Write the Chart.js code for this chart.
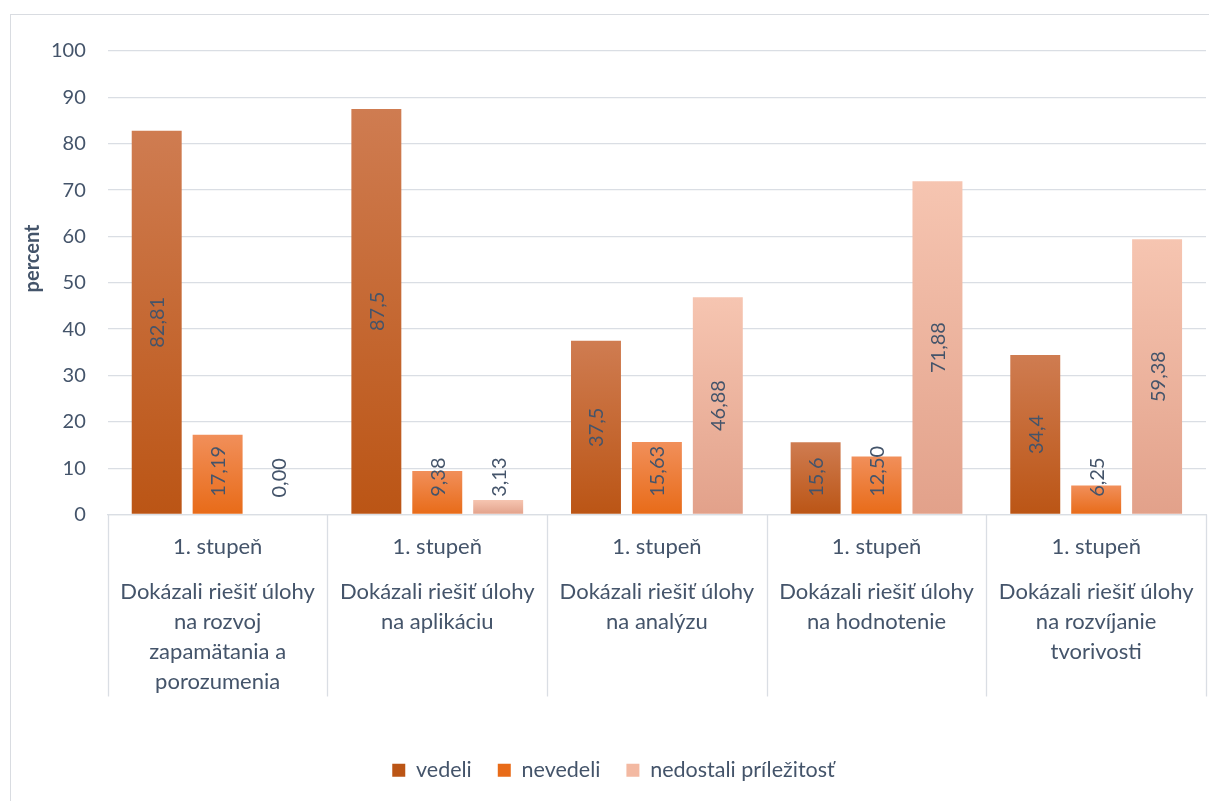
<!DOCTYPE html>
<html><head><meta charset="utf-8">
<script src="https://cdn.jsdelivr.net/npm/chart.js@4/dist/chart.umd.min.js"></script>
<style>
html,body{margin:0;padding:0;background:#fff;overflow:hidden}
#wrap{position:absolute;left:10px;top:14px;width:1210px;height:800px;border-left:1px solid #d9dce1;border-top:1px solid #d9dce1;}
#c{display:block}
</style></head><body>
<div id="wrap"><canvas id="c"></canvas></div>
<script>
const categoriesTop = ['1. stupeň','1. stupeň','1. stupeň','1. stupeň','1. stupeň'];
const categoryLines = [
  ['Dokázali riešiť úlohy','na rozvoj','zapamätania a','porozumenia'],
  ['Dokázali riešiť úlohy','na aplikáciu'],
  ['Dokázali riešiť úlohy','na analýzu'],
  ['Dokázali riešiť úlohy','na hodnotenie'],
  ['Dokázali riešiť úlohy','na rozvíjanie','tvorivosti']
];
const seriesNames = ['vedeli','nevedeli','nedostali príležitosť'];
const vedeli = [82.81, 87.5, 37.5, 15.6, 34.4];
const nevedeli = [17.19, 9.38, 15.63, 12.5, 6.25];
const nedostali = [0, 3.13, 46.88, 71.88, 59.38];
const vedeliLabels = ['82,81','87,5','37,5','15,6','34,4'];
const nevedeliLabels = ['17,19','9,38','15,63','12,50','6,25'];
const nedostaliLabels = ['0,00','3,13','46,88','71,88','59,38'];
const yAxisTitle = 'percent';

const FONT = 'Lato, "Noto Sans", sans-serif';
const TXT = '#44546a';
const GRID = '#dadee4';

function grad(top, bottom, solid){
  return (ctx) => {
    if (ctx.type !== 'data') return solid;
    const ch = ctx.chart; const y = ch.scales.y;
    if (!y || !ch.ctx) return solid;
    const t = y.getPixelForValue(ctx.raw), b = y.getPixelForValue(0);
    if (!isFinite(t) || !isFinite(b) || Math.abs(b - t) < 1) return solid;
    const g = ch.ctx.createLinearGradient(0, t, 0, b);
    g.addColorStop(0, top); g.addColorStop(1, bottom);
    return g;
  };
}

const labelSets = [vedeliLabels, nevedeliLabels, nedostaliLabels];
const X2_PAD = -10, X2_LH = 30;

const separators = {
  id: 'separators',
  afterDraw(chart){
    const xs = chart.scales.x, x2 = chart.scales.x2, c = chart.ctx;
    const n = xs.getLabels().length;
    const maxLines = Math.max(...categoryLines.map(l => l.length));
    const bottom = x2.top + X2_PAD + maxLines * X2_LH + 8;
    c.save(); c.strokeStyle = GRID; c.lineWidth = 1.3;
    for (let i = 0; i <= n; i++){
      const px = Math.round(xs.getPixelForValue(i - 0.5)) + 0.5;
      c.beginPath(); c.moveTo(px, xs.top); c.lineTo(px, bottom); c.stroke();
    }
    c.restore();
  }
};

const valueLabels = {
  id: 'valueLabels',
  afterDatasetsDraw(chart){
    const c = chart.ctx;
    c.save();
    c.font = '20px ' + FONT; c.fillStyle = TXT;
    c.textAlign = 'center'; c.textBaseline = 'middle';
    chart.data.datasets.forEach((ds, di) => {
      const meta = chart.getDatasetMeta(di);
      meta.data.forEach((el, i) => {
        const txt = labelSets[di][i];
        const w = c.measureText(txt).width;
        let cy = (el.y + el.base) / 2;
        cy = Math.min(cy, el.base - 17 - w / 2);
        c.save(); c.translate(el.x, cy); c.rotate(-Math.PI/2);
        c.fillText(txt, 0, 1); c.restore();
      });
    });
    c.restore();
  }
};

const canvas = document.getElementById('c');
canvas.width = 1198; canvas.height = 786;
canvas.style.width = '1198px'; canvas.style.height = '786px';

new Chart(canvas, {
  type: 'bar',
  data: {
    labels: categoriesTop,
    datasets: [
      {label: seriesNames[0], data: vedeli, backgroundColor: grad('#cf7c51', '#bb5515', '#c6631f')},
      {label: seriesNames[1], data: nevedeli, backgroundColor: grad('#f18f5a', '#e86b18', '#f07d2e')},
      {label: seriesNames[2], data: nedostali, backgroundColor: grad('#f6c5b1', '#e2a18a', '#f3b9a2')}
    ]
  },
  options: {
    responsive: false,
    animation: false,
    devicePixelRatio: 1,
    categoryPercentage: 0.832,
    barPercentage: 0.82,
    layout: {padding: {left: 10, right: 3, top: 36, bottom: 10}},
    scales: {
      y: {
        min: 0, max: 100,
        ticks: {stepSize: 10, padding: 22, color: TXT, font: {family: FONT, size: 20}},
        grid: {color: GRID, lineWidth: 1.3, drawTicks: false},
        border: {display: false},
        title: {display: true, text: '          ' + yAxisTitle, color: TXT, font: {family: FONT, size: 20, weight: 'bold', lineHeight: '24px'}, padding: {top: 0, bottom: -16}}
      },
      x: {
        position: 'bottom',
        offset: true,
        ticks: {padding: 17, color: TXT, font: {family: FONT, size: 22, lineHeight: '30px'}, maxRotation: 0, minRotation: 0, autoSkip: false},
        grid: {display: true, drawOnChartArea: false, drawTicks: false, color: 'rgba(0,0,0,0)'},
        border: {display: true, color: GRID, width: 1.3}
      },
      x2: {
        type: 'category',
        position: 'bottom',
        labels: categoryLines,
        offset: true,
        ticks: {padding: X2_PAD, color: TXT, font: {family: FONT, size: 22, lineHeight: X2_LH + 'px'}, maxRotation: 0, minRotation: 0, autoSkip: false},
        grid: {display: false},
        border: {display: false},
        title: {display: true, text: ' ', font: {size: 10, lineHeight: '10px'}, padding: {top: 0, bottom: 37}}
      }
    },
    plugins: {
      legend: {
        position: 'bottom',
        labels: {boxWidth: 13, boxHeight: 13, padding: 26, color: TXT, font: {family: FONT, size: 21.5}}
      },
      tooltip: {enabled: false}
    }
  },
  plugins: [separators, valueLabels]
});
</script>
</body></html>
